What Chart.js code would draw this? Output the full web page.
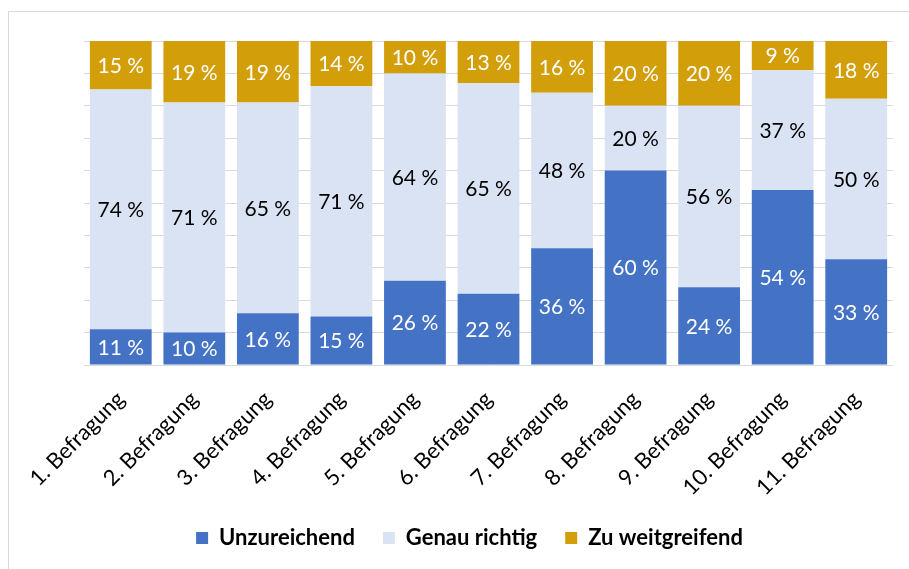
<!DOCTYPE html>
<html>
<head>
<meta charset="utf-8">
<script src="https://cdn.jsdelivr.net/npm/chart.js@4/dist/chart.umd.min.js"></script>
<style>
  body { margin: 0; background: #fff; }
  #wrap { position: relative; width: 909px; height: 569px; }
  #frame { position: absolute; left: 8px; top: 11px; width: 905px; height: 560px; border: 1px solid #d9d9d9; }
  canvas { position: absolute; left: 0; top: 0; }
</style>
</head>
<body>
<div id="wrap">
  <div id="frame"></div>
  <canvas id="myChart" width="909" height="569"></canvas>
</div>
<script>
// Befragungen
var labels = ['1. Befragung', '2. Befragung', '3. Befragung', '4. Befragung', '5. Befragung', '6. Befragung',
              '7. Befragung', '8. Befragung', '9. Befragung', '10. Befragung', '11. Befragung'];
var unzureichend   = [11, 10, 16, 15, 26, 22, 36, 60, 24, 54, 33];
var genauRichtig   = [74, 71, 65, 71, 64, 65, 48, 20, 56, 37, 50];
var zuWeitgreifend = [15, 19, 19, 14, 10, 13, 16, 20, 20, 9, 18];
var yTicks = [0, 10, 20, 30, 40, 50, 60, 70, 80, 90, 100];

// 100 % gestapelt, wie in Excel
var totals = labels.map(function(l, i) {
    return unzureichend[i] + genauRichtig[i] + zuWeitgreifend[i];
});
function share(arr) {
    return arr.map(function(v, i) { return v / totals[i] * 100; });
}

var valueLabels = {
    id: 'valueLabels',
    afterDatasetsDraw: function(chart) {
        var ctx = chart.ctx;
        ctx.save();
        ctx.font = '21px Lato';
        ctx.textAlign = 'center';
        ctx.textBaseline = 'middle';
        chart.data.datasets.forEach(function(ds, di) {
            var meta = chart.getDatasetMeta(di);
            meta.data.forEach(function(bar, i) {
                ctx.fillStyle = ds.labelColor;
                ctx.fillText(ds.raw[i] + ' %', bar.x, (bar.y + bar.base) / 2 + 1);
            });
        });
        ctx.restore();
    }
};

var ctx = document.getElementById('myChart').getContext('2d');
var myChart = new Chart(ctx, {
    type: 'bar',
    data: {
        labels: labels,
        datasets: [{
            label: 'Unzureichend',
            data: share(unzureichend),
            raw: unzureichend,
            backgroundColor: '#4472c4',
            labelColor: '#ffffff'
        }, {
            label: 'Genau richtig',
            data: share(genauRichtig),
            raw: genauRichtig,
            backgroundColor: '#dae3f3',
            labelColor: '#000000'
        }, {
            label: 'Zu weitgreifend',
            data: share(zuWeitgreifend),
            raw: zuWeitgreifend,
            backgroundColor: '#d29e0a',
            labelColor: '#ffffff'
        }]
    },
    options: {
        responsive: false,
        animation: false,
        layout: { padding: { left: 46, right: 16, top: 41, bottom: 10 } },
        datasets: { bar: { categoryPercentage: 1, barPercentage: 0.84, borderWidth: 0 } },
        plugins: {
            tooltip: { enabled: false },
            legend: {
                position: 'bottom',
                labels: {
                    boxWidth: 12, boxHeight: 12, padding: 28,
                    color: '#000',
                    font: { family: 'Lato', size: 22, weight: 'bold' }
                }
            }
        },
        scales: {
            x: {
                stacked: true,
                grid: { display: false },
                border: { display: false },
                afterFit: function(scale) { scale.height = 134; },
                ticks: {
                    minRotation: 45, maxRotation: 45, padding: 13,
                    color: '#000',
                    font: { family: 'Lato', size: 22 }
                }
            },
            y: {
                stacked: true,
                min: 0, max: 100,
                afterFit: function(scale) { scale.width = 38; },
                afterBuildTicks: function(scale) {
                    scale.ticks = yTicks.map(function(v) { return { value: v }; });
                },
                ticks: { display: false },
                grid: { color: '#d9d9d9', drawTicks: false },
                border: { display: false }
            }
        }
    },
    plugins: [valueLabels]
});
</script>
</body>
</html>
